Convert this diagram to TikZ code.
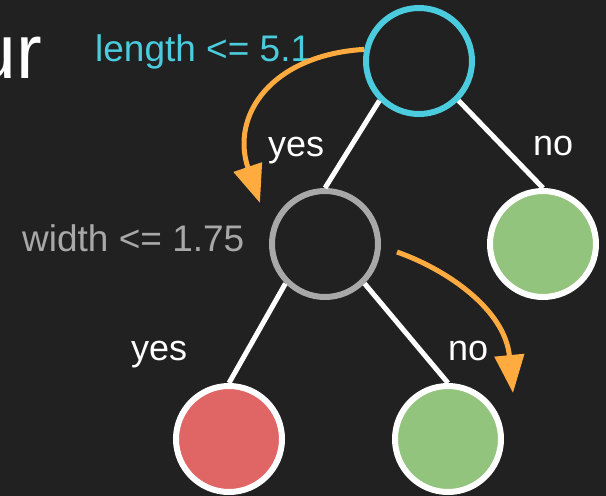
\documentclass[tikz,border=0pt]{standalone}
\usepackage{fontspec}
\setmainfont{Liberation Sans}
\usetikzlibrary{arrows.meta}
\definecolor{bgc}{HTML}{212121}
\definecolor{cyanc}{HTML}{4BCCDE}
\definecolor{orangec}{HTML}{FFAB40}
\definecolor{grayc}{HTML}{A8A8A8}
\definecolor{greenc}{HTML}{93C47D}
\definecolor{redc}{HTML}{E06666}
\begin{document}
\begin{tikzpicture}[x=1pt,y=-1pt,
  tnode/.style={circle, minimum size=106pt, inner sep=0pt, line width=6pt},
  edgeline/.style={draw=white, line width=5pt},
  lbl/.style={font=\fontsize{37}{42}\selectfont, inner sep=0pt, anchor=base west},
  yn/.style={font=\fontsize{36}{40}\selectfont, inner sep=0pt, anchor=base west, text=white},
  flow/.style={draw=orangec, line width=5pt, -{Triangle[length=38pt,width=29pt]}}]
\fill[bgc] (0,0) rectangle (606,496);
\useasboundingbox (0,0) rectangle (606,496);
\clip (0,0) rectangle (606,496);

% title fragment
\node[font=\fontsize{77}{80}\selectfont, text=white, inner sep=0pt, anchor=base east] (title) at (42,78) {ur};

% nodes
\node[tnode, draw=cyanc] (root) at (419,61) {};
\node[tnode, draw=grayc] (mid) at (325,244) {};
\node[tnode, draw=white, fill=greenc] (gr) at (543,244) {};
\node[tnode, draw=white, fill=redc] (rl) at (229,439) {};
\node[tnode, draw=white, fill=greenc] (gb) at (448,439) {};

% edges
\draw[edgeline] (root.south west) -- (mid.north);
\draw[edgeline] (root.south east) -- (gr.north);
\draw[edgeline] (mid.south west) -- (rl.north);
\draw[edgeline] (mid.south east) -- (gb.north);

% labels
\node[lbl, text=cyanc] (lenlbl) at (95,61) {length <= 5.1};
\node[lbl, text=grayc] (widlbl) at (22,251) {width <= 1.75};
\node[yn] (yes1) at (268,156) {yes};
\node[yn] (no1) at (533,155) {no};
\node[yn] (yes2) at (131,360) {yes};
\node[yn] (no2) at (448,360) {no};

% flow arrows
\coordinate (f1end) at (260,203);
\coordinate (f2start) at (397,252);
\coordinate (f2end) at (513,393);
\draw[flow] (root.168) .. controls (272,55) and (230,115) .. (f1end);
\draw[flow] (f2start) .. controls (448,270) and (505,310) .. (f2end);
\end{tikzpicture}
\end{document}
